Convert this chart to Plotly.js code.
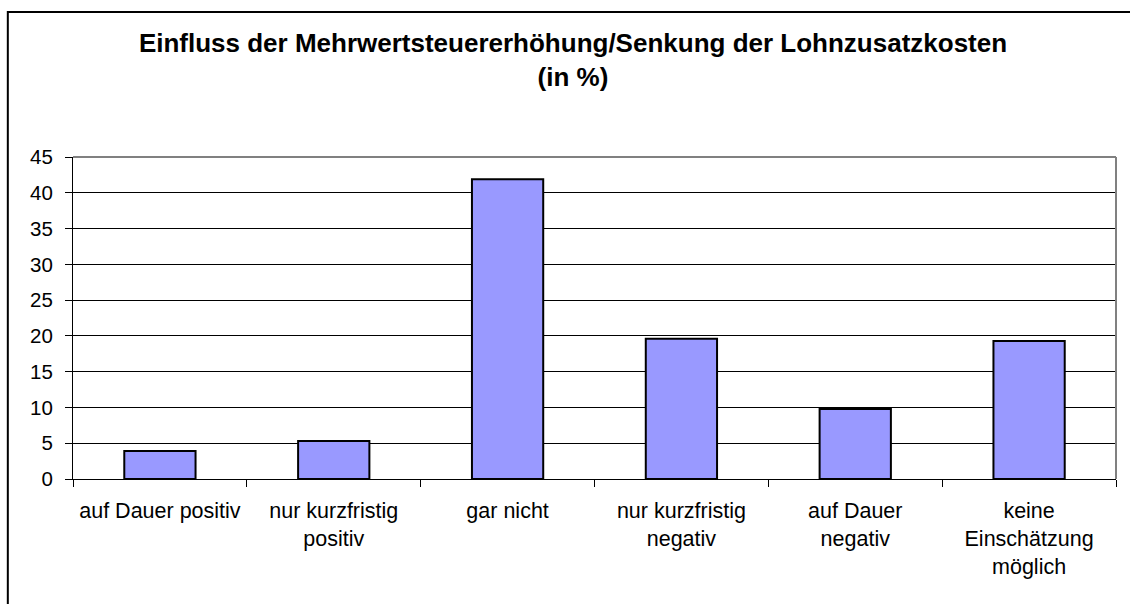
<!DOCTYPE html>
<html>
<head>
<meta charset="utf-8">
<script src="https://cdn.plot.ly/plotly-3.0.1.min.js"></script>
<style>
  html, body { margin: 0; padding: 0; background: #ffffff; }
  #chart { width: 1130px; height: 604px; }
</style>
</head>
<body>
<div id="chart"></div>
<script>
// ---- data ----
const categories = [
  "auf Dauer positiv",
  "nur kurzfristig<br>positiv",
  "gar nicht",
  "nur kurzfristig<br>negativ",
  "auf Dauer<br>negativ",
  "keine<br>Einschätzung<br>möglich"
];
const values = [3.9, 5.3, 41.9, 19.6, 9.8, 19.3];
const yTickValues = [0, 5, 10, 15, 20, 25, 30, 35, 40, 45];
const chartTitle = "Einfluss der Mehrwertsteuererhöhung/Senkung der Lohnzusatzkosten<br>(in %)";

const FONT = "Arial, 'Liberation Sans', sans-serif";

const trace = {
  type: "bar",
  x: categories,
  y: values,
  marker: { color: "#9999FF", line: { color: "#000000", width: 2 } },
  hoverinfo: "x+y"
};

const layout = {
  width: 1130,
  height: 604,
  paper_bgcolor: "#ffffff",
  plot_bgcolor: "#ffffff",
  margin: { l: 72.7, r: 14, t: 157.3, b: 125.3, pad: 0 },
  showlegend: false,
  bargap: 0.59,
  font: { family: FONT, color: "#000000" },
  title: {
    text: chartTitle,
    font: { family: FONT, size: 26, color: "#000000", weight: "bold" },
    xref: "container",
    x: 573 / 1130,
    xanchor: "center",
    yref: "container",
    y: 1 - 52 / 604,
    yanchor: "top"
  },
  xaxis: {
    type: "category",
    showgrid: false,
    showline: true,
    linecolor: "#000000",
    linewidth: 1,
    ticks: "outside",
    tickson: "boundaries",
    ticklen: 7,
    tickcolor: "#000000",
    tickwidth: 1,
    tickfont: { family: FONT, size: 21.5, color: "#000000" },
    ticklabelstandoff: 12,
    tickangle: 0,
    zeroline: false,
    fixedrange: true
  },
  yaxis: {
    range: [0, 45],
    tickvals: yTickValues,
    ticktext: yTickValues.map(String),
    showgrid: true,
    gridcolor: "#000000",
    gridwidth: 1,
    showline: true,
    linecolor: "#000000",
    linewidth: 1,
    ticks: "outside",
    ticklen: 7,
    tickcolor: "#000000",
    tickwidth: 1,
    tickfont: { family: FONT, size: 20.5, color: "#000000" },
    ticklabelstandoff: 8,
    zeroline: false,
    fixedrange: true
  },
  shapes: [
    // gray plot frame top and right
    { type: "line", xref: "paper", yref: "paper", x0: 0, x1: 1, y0: 1, y1: 1,
      line: { color: "#808080", width: 2 } },
    { type: "line", xref: "paper", yref: "paper", x0: 1, x1: 1, y0: 0, y1: 1,
      line: { color: "#808080", width: 2 } },
    // outer chart frame (extends past right and bottom edges)
    { type: "rect", xref: "paper", yref: "paper",
      x0: (7.5 - 72.7) / 1043.3, x1: 1.2,
      y0: -1, y1: (478.7 - 12.5) / 321.4,
      line: { color: "#000000", width: 2 }, fillcolor: "rgba(0,0,0,0)" }
  ]
};

Plotly.newPlot("chart", [trace], layout, { displayModeBar: false, staticPlot: true });
</script>
</body>
</html>
